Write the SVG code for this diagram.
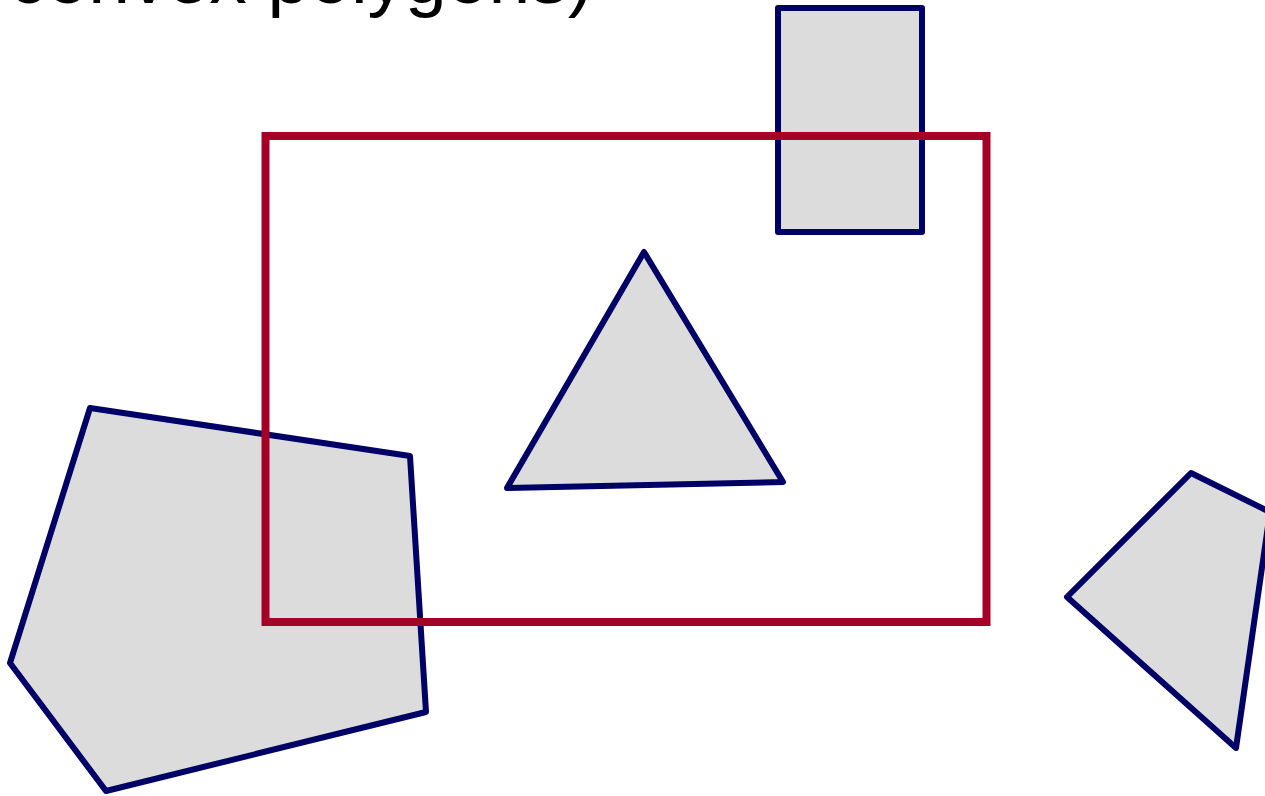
<svg xmlns="http://www.w3.org/2000/svg" width="1265" height="796" viewBox="0 0 1265 796">
<style>
.poly{fill:#dcdcdc;stroke:#000066;stroke-width:6;stroke-linejoin:round}
.clip{fill:none;stroke:#a50026;stroke-width:8}
.t{font-family:"Liberation Sans",Arial,sans-serif;font-size:75px;fill:#000}
</style>
<rect width="1265" height="796" fill="#fff"/>
<text class="t" x="9" y="3">convex polygons)</text>
<g id="rect-top"><rect class="poly" x="778" y="8" width="144" height="224"/></g>
<g id="triangle"><polygon class="poly" points="644,252 783,482 507,488"/></g>
<g id="pentagon"><polygon class="poly" points="90,408 410,456 426,712 106,791 10,663"/></g>
<g id="quad"><polygon class="poly" points="1191,473 1270,512 1236,748 1067,597"/></g>
<g id="clip-window"><rect class="clip" x="265.5" y="136" width="721" height="486"/></g>
</svg>
